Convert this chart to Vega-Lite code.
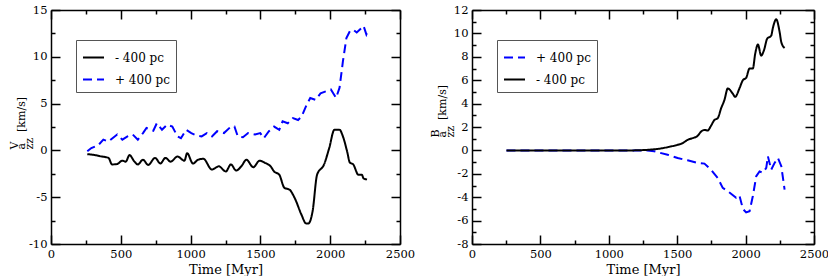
{
  "$schema": "https://vega.github.io/schema/vega-lite/v6.json",
  "padding": {"left": 8, "top": 4, "right": 5, "bottom": 2},
  "bounds": "flush",
  "spacing": 72,
  "background": "white",
  "config": {
    "font": "DejaVu Serif",
    "view": {"stroke": null},
    "axis": {
      "grid": false, "domainColor": "black", "domainWidth": 1.5,
      "tickColor": "black", "tickWidth": 1.5,
      "labelFont": "DejaVu Serif", "labelFontSize": 11.5, "labelColor": "black",
      "titleFont": "DejaVu Serif", "titleFontWeight": "normal", "titleColor": "black",
      "labelFlush": false, "labelOverlap": false
    },
    "legend": {
      "orient": "none", "legendX": 25, "legendY": 30, "title": null,
      "symbolType": "stroke", "symbolSize": 441, "symbolStrokeWidth": 2,
      "labelFont": "DejaVu Serif", "labelFontSize": 12, "labelColor": "black",
      "strokeColor": "#555", "padding": 6, "rowPadding": 4, "labelOffset": 10
    }
  },
  "datasets": {
    "left": [
      {"series": "- 400 pc", "t": 260, "v": -0.4}, {"series": "- 400 pc", "t": 314, "v": -0.5}, {"series": "- 400 pc", "t": 363, "v": -0.65}, {"series": "- 400 pc", "t": 412, "v": -0.8}, {"series": "- 400 pc", "t": 437, "v": -1.5}, {"series": "- 400 pc", "t": 474, "v": -1.45}, {"series": "- 400 pc", "t": 511, "v": -1.1}, {"series": "- 400 pc", "t": 536, "v": -1.2}, {"series": "- 400 pc", "t": 562, "v": -0.5}, {"series": "- 400 pc", "t": 598, "v": -1.2}, {"series": "- 400 pc", "t": 622, "v": -1.5}, {"series": "- 400 pc", "t": 659, "v": -1.0}, {"series": "- 400 pc", "t": 696, "v": -1.55}, {"series": "- 400 pc", "t": 746, "v": -0.8}, {"series": "- 400 pc", "t": 783, "v": -1.4}, {"series": "- 400 pc", "t": 820, "v": -0.8}, {"series": "- 400 pc", "t": 857, "v": -1.2}, {"series": "- 400 pc", "t": 906, "v": -0.65}, {"series": "- 400 pc", "t": 956, "v": -1.1}, {"series": "- 400 pc", "t": 975, "v": -0.3}, {"series": "- 400 pc", "t": 1017, "v": -1.4}, {"series": "- 400 pc", "t": 1054, "v": -1.0}, {"series": "- 400 pc", "t": 1091, "v": -0.9}, {"series": "- 400 pc", "t": 1153, "v": -2.05}, {"series": "- 400 pc", "t": 1202, "v": -1.7}, {"series": "- 400 pc", "t": 1252, "v": -2.25}, {"series": "- 400 pc", "t": 1289, "v": -1.5}, {"series": "- 400 pc", "t": 1326, "v": -2.15}, {"series": "- 400 pc", "t": 1363, "v": -1.7}, {"series": "- 400 pc", "t": 1400, "v": -1.0}, {"series": "- 400 pc", "t": 1449, "v": -1.8}, {"series": "- 400 pc", "t": 1494, "v": -1.1}, {"series": "- 400 pc", "t": 1536, "v": -1.35}, {"series": "- 400 pc", "t": 1573, "v": -1.7}, {"series": "- 400 pc", "t": 1598, "v": -2.25}, {"series": "- 400 pc", "t": 1635, "v": -2.6}, {"series": "- 400 pc", "t": 1672, "v": -4.0}, {"series": "- 400 pc", "t": 1709, "v": -4.2}, {"series": "- 400 pc", "t": 1746, "v": -5.1}, {"series": "- 400 pc", "t": 1795, "v": -6.9}, {"series": "- 400 pc", "t": 1827, "v": -7.8}, {"series": "- 400 pc", "t": 1844, "v": -7.8}, {"series": "- 400 pc", "t": 1874, "v": -6.5}, {"series": "- 400 pc", "t": 1906, "v": -2.6}, {"series": "- 400 pc", "t": 1956, "v": -1.5}, {"series": "- 400 pc", "t": 1993, "v": 0.25}, {"series": "- 400 pc", "t": 2030, "v": 2.2}, {"series": "- 400 pc", "t": 2067, "v": 2.2}, {"series": "- 400 pc", "t": 2091, "v": 1.5}, {"series": "- 400 pc", "t": 2121, "v": -0.1}, {"series": "- 400 pc", "t": 2141, "v": -1.3}, {"series": "- 400 pc", "t": 2165, "v": -1.5}, {"series": "- 400 pc", "t": 2202, "v": -2.6}, {"series": "- 400 pc", "t": 2227, "v": -2.6}, {"series": "- 400 pc", "t": 2239, "v": -3.0}, {"series": "- 400 pc", "t": 2264, "v": -3.1},
      {"series": "+ 400 pc", "t": 260, "v": -0.1}, {"series": "+ 400 pc", "t": 289, "v": 0.25}, {"series": "+ 400 pc", "t": 338, "v": 0.55}, {"series": "+ 400 pc", "t": 375, "v": 1.15}, {"series": "+ 400 pc", "t": 412, "v": 0.95}, {"series": "+ 400 pc", "t": 474, "v": 1.7}, {"series": "+ 400 pc", "t": 511, "v": 1.15}, {"series": "+ 400 pc", "t": 548, "v": 1.5}, {"series": "+ 400 pc", "t": 585, "v": 1.7}, {"series": "+ 400 pc", "t": 622, "v": 1.15}, {"series": "+ 400 pc", "t": 659, "v": 1.85}, {"series": "+ 400 pc", "t": 684, "v": 2.4}, {"series": "+ 400 pc", "t": 733, "v": 2.1}, {"series": "+ 400 pc", "t": 758, "v": 2.9}, {"series": "+ 400 pc", "t": 795, "v": 2.2}, {"series": "+ 400 pc", "t": 832, "v": 2.75}, {"series": "+ 400 pc", "t": 869, "v": 2.55}, {"series": "+ 400 pc", "t": 906, "v": 1.5}, {"series": "+ 400 pc", "t": 931, "v": 1.3}, {"series": "+ 400 pc", "t": 968, "v": 2.2}, {"series": "+ 400 pc", "t": 1005, "v": 1.85}, {"series": "+ 400 pc", "t": 1042, "v": 1.6}, {"series": "+ 400 pc", "t": 1079, "v": 1.5}, {"series": "+ 400 pc", "t": 1116, "v": 1.85}, {"series": "+ 400 pc", "t": 1153, "v": 1.5}, {"series": "+ 400 pc", "t": 1190, "v": 2.05}, {"series": "+ 400 pc", "t": 1239, "v": 1.85}, {"series": "+ 400 pc", "t": 1289, "v": 2.55}, {"series": "+ 400 pc", "t": 1314, "v": 2.55}, {"series": "+ 400 pc", "t": 1338, "v": 1.5}, {"series": "+ 400 pc", "t": 1375, "v": 1.4}, {"series": "+ 400 pc", "t": 1412, "v": 1.85}, {"series": "+ 400 pc", "t": 1462, "v": 1.7}, {"series": "+ 400 pc", "t": 1499, "v": 1.85}, {"series": "+ 400 pc", "t": 1524, "v": 1.3}, {"series": "+ 400 pc", "t": 1561, "v": 2.05}, {"series": "+ 400 pc", "t": 1598, "v": 2.55}, {"series": "+ 400 pc", "t": 1635, "v": 2.2}, {"series": "+ 400 pc", "t": 1659, "v": 3.1}, {"series": "+ 400 pc", "t": 1696, "v": 2.9}, {"series": "+ 400 pc", "t": 1733, "v": 3.45}, {"series": "+ 400 pc", "t": 1770, "v": 3.25}, {"series": "+ 400 pc", "t": 1795, "v": 3.6}, {"series": "+ 400 pc", "t": 1832, "v": 4.9}, {"series": "+ 400 pc", "t": 1857, "v": 5.6}, {"series": "+ 400 pc", "t": 1894, "v": 5.4}, {"series": "+ 400 pc", "t": 1931, "v": 6.1}, {"series": "+ 400 pc", "t": 1968, "v": 6.3}, {"series": "+ 400 pc", "t": 2005, "v": 6.5}, {"series": "+ 400 pc", "t": 2042, "v": 5.6}, {"series": "+ 400 pc", "t": 2067, "v": 6.7}, {"series": "+ 400 pc", "t": 2091, "v": 9.5}, {"series": "+ 400 pc", "t": 2116, "v": 12.0}, {"series": "+ 400 pc", "t": 2141, "v": 12.75}, {"series": "+ 400 pc", "t": 2165, "v": 12.9}, {"series": "+ 400 pc", "t": 2190, "v": 12.6}, {"series": "+ 400 pc", "t": 2227, "v": 13.1}, {"series": "+ 400 pc", "t": 2239, "v": 13.3}, {"series": "+ 400 pc", "t": 2259, "v": 12.4}, {"series": "+ 400 pc", "t": 2269, "v": 12.75}
    ],
    "right": [
      {"series": "- 400 pc", "t": 252, "v": 0}, {"series": "- 400 pc", "t": 600, "v": 0}, {"series": "- 400 pc", "t": 900, "v": 0}, {"series": "- 400 pc", "t": 1161, "v": 0}, {"series": "- 400 pc", "t": 1283, "v": 0.05}, {"series": "- 400 pc", "t": 1381, "v": 0.17}, {"series": "- 400 pc", "t": 1454, "v": 0.34}, {"series": "- 400 pc", "t": 1503, "v": 0.48}, {"series": "- 400 pc", "t": 1540, "v": 0.62}, {"series": "- 400 pc", "t": 1576, "v": 0.9}, {"series": "- 400 pc", "t": 1613, "v": 1.05}, {"series": "- 400 pc", "t": 1650, "v": 1.25}, {"series": "- 400 pc", "t": 1674, "v": 1.6}, {"series": "- 400 pc", "t": 1699, "v": 1.75}, {"series": "- 400 pc", "t": 1723, "v": 1.7}, {"series": "- 400 pc", "t": 1747, "v": 2.1}, {"series": "- 400 pc", "t": 1772, "v": 2.6}, {"series": "- 400 pc", "t": 1796, "v": 2.75}, {"series": "- 400 pc", "t": 1821, "v": 3.6}, {"series": "- 400 pc", "t": 1845, "v": 4.3}, {"series": "- 400 pc", "t": 1870, "v": 5.3}, {"series": "- 400 pc", "t": 1906, "v": 4.85}, {"series": "- 400 pc", "t": 1924, "v": 4.58}, {"series": "- 400 pc", "t": 1955, "v": 5.3}, {"series": "- 400 pc", "t": 1980, "v": 6.0}, {"series": "- 400 pc", "t": 2004, "v": 6.2}, {"series": "- 400 pc", "t": 2029, "v": 7.0}, {"series": "- 400 pc", "t": 2053, "v": 7.0}, {"series": "- 400 pc", "t": 2070, "v": 8.25}, {"series": "- 400 pc", "t": 2090, "v": 9.05}, {"series": "- 400 pc", "t": 2114, "v": 8.1}, {"series": "- 400 pc", "t": 2134, "v": 8.55}, {"series": "- 400 pc", "t": 2158, "v": 9.55}, {"series": "- 400 pc", "t": 2187, "v": 9.8}, {"series": "- 400 pc", "t": 2200, "v": 10.5}, {"series": "- 400 pc", "t": 2224, "v": 11.2}, {"series": "- 400 pc", "t": 2249, "v": 10.1}, {"series": "- 400 pc", "t": 2261, "v": 9.25}, {"series": "- 400 pc", "t": 2285, "v": 8.75},
      {"series": "+ 400 pc", "t": 252, "v": 0}, {"series": "+ 400 pc", "t": 900, "v": 0}, {"series": "+ 400 pc", "t": 1283, "v": 0}, {"series": "+ 400 pc", "t": 1332, "v": -0.08}, {"series": "+ 400 pc", "t": 1430, "v": -0.37}, {"series": "+ 400 pc", "t": 1503, "v": -0.65}, {"series": "+ 400 pc", "t": 1576, "v": -0.85}, {"series": "+ 400 pc", "t": 1650, "v": -1.07}, {"series": "+ 400 pc", "t": 1699, "v": -1.13}, {"series": "+ 400 pc", "t": 1747, "v": -1.65}, {"series": "+ 400 pc", "t": 1796, "v": -2.35}, {"series": "+ 400 pc", "t": 1833, "v": -3.2}, {"series": "+ 400 pc", "t": 1882, "v": -3.6}, {"series": "+ 400 pc", "t": 1931, "v": -4.05}, {"series": "+ 400 pc", "t": 1955, "v": -3.85}, {"series": "+ 400 pc", "t": 1980, "v": -5.0}, {"series": "+ 400 pc", "t": 2004, "v": -5.3}, {"series": "+ 400 pc", "t": 2029, "v": -5.2}, {"series": "+ 400 pc", "t": 2053, "v": -3.9}, {"series": "+ 400 pc", "t": 2078, "v": -2.2}, {"series": "+ 400 pc", "t": 2102, "v": -1.8}, {"series": "+ 400 pc", "t": 2126, "v": -1.9}, {"series": "+ 400 pc", "t": 2151, "v": -1.5}, {"series": "+ 400 pc", "t": 2163, "v": -0.5}, {"series": "+ 400 pc", "t": 2187, "v": -1.65}, {"series": "+ 400 pc", "t": 2212, "v": -1.07}, {"series": "+ 400 pc", "t": 2236, "v": -0.65}, {"series": "+ 400 pc", "t": 2261, "v": -1.35}, {"series": "+ 400 pc", "t": 2285, "v": -3.35}
    ]
  },
  "resolve": {
    "scale": {"color": "independent", "strokeDash": "independent"},
    "legend": {"color": "independent", "strokeDash": "independent"}
  },
  "hconcat": [
    {
      "width": 349, "height": 234,
      "data": {"name": "left"},
      "layer": [
        {
          "encoding": {
            "x": {"field": "t", "type": "quantitative", "scale": {"domain": [0, 2500], "nice": false},
              "axis": {"values": [0, 250, 500, 750, 1000, 1250, 1500, 1750, 2000, 2250, 2500],
                "labelExpr": "datum.value % 500 === 0 ? toString(datum.value) : ''",
                "tickSize": {"condition": {"test": "datum.value % 500 === 0", "value": -9}, "value": -4},
                "labelPadding": 13, "title": "Time [Myr]", "titleFontSize": 13, "titleY": 29, "titleBaseline": "alphabetic"}},
            "y": {"field": "v", "type": "quantitative", "scale": {"domain": [-10, 15], "nice": false, "zero": false},
              "axis": {"values": [-10, -7.5, -5, -2.5, 0, 2.5, 5, 7.5, 10, 12.5, 15],
                "labelExpr": "datum.value % 5 === 0 ? toString(datum.value) : ''",
                "tickSize": {"condition": {"test": "datum.value % 5 === 0", "value": -9}, "value": -4},
                "labelPadding": 13,
                "title": ["V", "a\u2003[km/s]", "\u2002zz"],
                "titleFontSize": 11, "titleLineHeight": 7.5, "titleAlign": "left", "titleBaseline": "middle",
                "titleAngle": -90, "titleX": -37, "titleY": 139}},
            "color": {"field": "series", "type": "nominal",
              "scale": {"domain": ["- 400 pc", "+ 400 pc"], "range": ["black", "#0000ff"]}, "legend": {}},
            "strokeDash": {"field": "series", "type": "nominal",
              "scale": {"domain": ["- 400 pc", "+ 400 pc"], "range": [[1, 0], [9, 5]]}, "legend": {}}
          },
          "layer": [
            {"transform": [{"filter": "datum.series === '+ 400 pc'"}], "mark": {"type": "line", "strokeWidth": 2}},
            {"transform": [{"filter": "datum.series === '- 400 pc'"}], "mark": {"type": "line", "strokeWidth": 2, "interpolate": "monotone"}}
          ]
        },
        {
          "mark": {"type": "line", "opacity": 0},
          "encoding": {
            "x": {"field": "t", "type": "quantitative",
              "axis": {"orient": "top", "labels": false, "title": null, "values": [0, 250, 500, 750, 1000, 1250, 1500, 1750, 2000, 2250, 2500],
                "tickSize": {"condition": {"test": "datum.value % 500 === 0", "value": -9}, "value": -4}}},
            "y": {"field": "v", "type": "quantitative",
              "axis": {"orient": "right", "labels": false, "title": null, "values": [-10, -7.5, -5, -2.5, 0, 2.5, 5, 7.5, 10, 12.5, 15],
                "tickSize": {"condition": {"test": "datum.value % 5 === 0", "value": -9}, "value": -4}}},
            "detail": {"field": "series"}
          }
        }
      ],
      "resolve": {"axis": {"x": "independent", "y": "independent"}}
    },
    {
      "width": 342, "height": 234,
      "data": {"name": "right"},
      "layer": [
        {
          "encoding": {
            "x": {"field": "t", "type": "quantitative", "scale": {"domain": [0, 2500], "nice": false},
              "axis": {"values": [0, 250, 500, 750, 1000, 1250, 1500, 1750, 2000, 2250, 2500],
                "labelExpr": "datum.value % 500 === 0 ? toString(datum.value) : ''",
                "tickSize": {"condition": {"test": "datum.value % 500 === 0", "value": -9}, "value": -4},
                "labelPadding": 13, "title": "Time [Myr]", "titleFontSize": 13, "titleY": 29, "titleBaseline": "alphabetic"}},
            "y": {"field": "v", "type": "quantitative", "scale": {"domain": [-8, 12], "nice": false, "zero": false},
              "axis": {"values": [-8, -7, -6, -5, -4, -3, -2, -1, 0, 1, 2, 3, 4, 5, 6, 7, 8, 9, 10, 11, 12],
                "labelExpr": "datum.value % 2 === 0 ? toString(datum.value) : ''",
                "tickSize": {"condition": {"test": "datum.value % 2 === 0", "value": -9}, "value": -4},
                "labelPadding": 13,
                "title": ["B", "a\u2003[km/s]", "\u2002zz"],
                "titleFontSize": 11, "titleLineHeight": 7.5, "titleAlign": "left", "titleBaseline": "middle",
                "titleAngle": -90, "titleX": -37, "titleY": 127}},
            "color": {"field": "series", "type": "nominal",
              "scale": {"domain": ["+ 400 pc", "- 400 pc"], "range": ["#0000ff", "black"]}, "legend": {}},
            "strokeDash": {"field": "series", "type": "nominal",
              "scale": {"domain": ["+ 400 pc", "- 400 pc"], "range": [[9, 5], [1, 0]]}, "legend": {}}
          },
          "layer": [
            {"transform": [{"filter": "datum.series === '+ 400 pc'"}], "mark": {"type": "line", "strokeWidth": 2}},
            {"transform": [{"filter": "datum.series === '- 400 pc'"}], "mark": {"type": "line", "strokeWidth": 2, "interpolate": "monotone"}}
          ]
        },
        {
          "mark": {"type": "line", "opacity": 0},
          "encoding": {
            "x": {"field": "t", "type": "quantitative",
              "axis": {"orient": "top", "labels": false, "title": null, "values": [0, 250, 500, 750, 1000, 1250, 1500, 1750, 2000, 2250, 2500],
                "tickSize": {"condition": {"test": "datum.value % 500 === 0", "value": -9}, "value": -4}}},
            "y": {"field": "v", "type": "quantitative",
              "axis": {"orient": "right", "labels": false, "title": null, "values": [-8, -7, -6, -5, -4, -3, -2, -1, 0, 1, 2, 3, 4, 5, 6, 7, 8, 9, 10, 11, 12],
                "tickSize": {"condition": {"test": "datum.value % 2 === 0", "value": -9}, "value": -4}}},
            "detail": {"field": "series"}
          }
        }
      ],
      "resolve": {"axis": {"x": "independent", "y": "independent"}}
    }
  ]
}
